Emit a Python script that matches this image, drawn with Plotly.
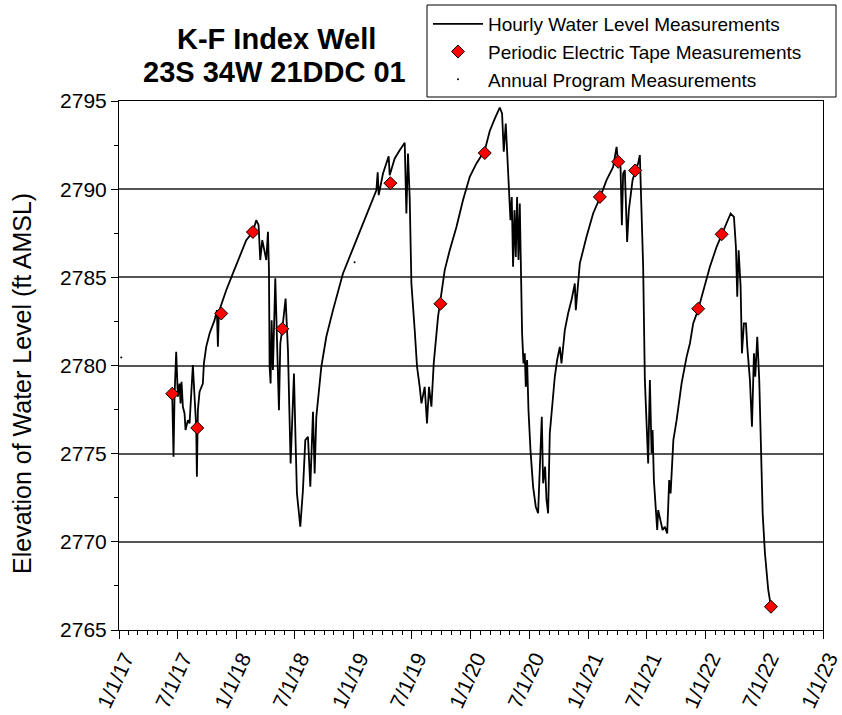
import pandas as pd
import plotly.graph_objects as go

BASE = pd.Timestamp("2017-01-01")

# Hourly water level record (days since 2017-01-01, ft AMSL)
hourly_days = [165.6, 169.7, 172.8, 178.0, 183.2, 188.4, 191.5, 194.6, 198.8, 204.0, 207.1, 214.4, 219.6,
               229.9, 235.1, 240.3, 242.4, 245.5, 250.7, 261.0, 264.2, 271.4, 281.9, 297.4, 304.7, 307.8,
               310.9, 333.7, 354.5, 375.3, 396.0, 416.8, 427.2, 434.4, 439.6, 445.9, 453.2, 458.4, 463.6,
               466.7, 468.7, 471.8, 475.0, 479.1, 486.4, 491.6, 497.8, 502.0, 508.3, 518.5, 525.8, 534.1,
               539.3, 544.5, 549.7, 553.8, 564.2, 572.5, 579.8, 588.1, 595.4, 603.7, 608.9, 614.1, 629.7,
               645.2, 666.0, 686.7, 697.0, 738.7, 780.2, 801.0, 805.1, 808.2, 821.6, 839.3, 842.4, 858.0,
               873.6, 889.2, 894.4, 899.4, 904.7, 910.0, 920.3, 927.5, 935.9, 941.2, 951.4, 958.6, 964.8,
               972.3, 979.5, 992.9, 1013.7, 1029.3, 1050.2, 1070.7, 1091.6, 1112.4, 1138.3, 1153.9, 1169.5,
               1179.7, 1185.0, 1192.2, 1197.5, 1203.7, 1209.0, 1214.0, 1218.3, 1222.4, 1226.4, 1230.8,
               1234.9, 1238.9, 1243.3, 1247.3, 1250.4, 1254.5, 1258.8, 1262.9, 1266.0, 1270.1, 1274.4,
               1280.6, 1288.8, 1297.1, 1304.3, 1309.6, 1315.8, 1319.9, 1326.1, 1330.5, 1335.5, 1340.7,
               1349.1, 1356.3, 1363.5, 1371.9, 1377.1, 1387.5, 1397.7, 1408.3, 1418.6, 1421.7, 1434.2,
               1455.0, 1475.6, 1496.5, 1517.3, 1537.9, 1548.5, 1553.5, 1560.9, 1565.0, 1569.0, 1574.2,
               1577.3, 1581.4, 1586.7, 1592.0, 1598.3, 1606.4, 1615.7, 1621.0, 1631.3, 1636.6, 1646.9,
               1652.2, 1657.5, 1660.6, 1664.7, 1670.9, 1675.0, 1678.1, 1685.5, 1691.7, 1698.9, 1706.1,
               1712.3, 1716.7, 1725.3, 1735.4, 1750.9, 1766.5, 1776.8, 1787.0, 1802.6, 1818.2, 1839.0,
               1859.9, 1875.5, 1891.1, 1903.5, 1913.8, 1920.0, 1924.1, 1928.4, 1934.6, 1938.7, 1944.9,
               1951.2, 1955.3, 1963.6, 1969.9, 1976.1, 1980.2, 1986.4, 1992.6, 1997.0, 2003.2, 2010.3,
               2020.6, 2029.0]
hourly_levels = [2778.36, 2774.83, 2778.23, 2780.78, 2778.23, 2778.98, 2777.85, 2779.08, 2777.66, 2777.28,
                 2776.34, 2776.90, 2776.72, 2780.02, 2778.23, 2776.53, 2773.69, 2777.47, 2778.51, 2778.98,
                 2780.12, 2781.06, 2781.82, 2782.57, 2783.14, 2781.06, 2783.05, 2784.27, 2785.22, 2786.16,
                 2787.11, 2787.58, 2788.24, 2787.96, 2785.98, 2787.11, 2786.54, 2785.98, 2787.58, 2785.41,
                 2779.93, 2778.98, 2782.57, 2779.74, 2784.94, 2781.44, 2777.47, 2781.25, 2782.08, 2783.80,
                 2780.87, 2774.45, 2777.47, 2779.55, 2775.58, 2772.75, 2770.86, 2772.94, 2775.77, 2775.96,
                 2773.12, 2777.38, 2773.88, 2777.09, 2779.93, 2781.63, 2783.14, 2784.46, 2785.22, 2787.11,
                 2789.00, 2789.94, 2790.96, 2789.66, 2790.89, 2791.87, 2790.79, 2791.74, 2792.21, 2792.63,
                 2788.62, 2792.02, 2789.56, 2784.65, 2782.01, 2779.93, 2778.79, 2777.85, 2778.79, 2776.72,
                 2778.79, 2777.66, 2780.12, 2782.76, 2785.41, 2786.54, 2787.86, 2789.38, 2790.70, 2791.46,
                 2792.20, 2793.30, 2794.00, 2794.38, 2794.63, 2794.29, 2792.12, 2793.72, 2791.64, 2789.94,
                 2788.24, 2789.56, 2785.60, 2788.81, 2786.16, 2789.56, 2785.98, 2789.19, 2784.84, 2781.82,
                 2780.12, 2780.69, 2778.79, 2780.31, 2777.47, 2775.20, 2773.12, 2771.99, 2771.62, 2774.26,
                 2777.09, 2773.32, 2774.26, 2772.37, 2771.62, 2776.15, 2778.04, 2779.36, 2780.31, 2781.06,
                 2780.12, 2782.01, 2782.95, 2783.71, 2784.65, 2783.14, 2785.79, 2787.30, 2788.62, 2789.51,
                 2790.51, 2791.26, 2792.40, 2791.49, 2791.26, 2787.96, 2790.89, 2791.08, 2789.38, 2787.01,
                 2788.81, 2789.76, 2790.51, 2791.00, 2791.46, 2791.93, 2785.60, 2779.17, 2774.45, 2779.17,
                 2775.02, 2776.34, 2773.50, 2771.80, 2770.67, 2771.80, 2771.24, 2770.67, 2770.86, 2770.48,
                 2773.50, 2772.75, 2775.77, 2776.90, 2778.99, 2780.49, 2781.25, 2782.39, 2783.18, 2784.27,
                 2785.60, 2786.73, 2787.39, 2788.06, 2788.62, 2788.43, 2786.73, 2783.90, 2786.54, 2784.46,
                 2780.69, 2782.39, 2782.39, 2781.06, 2779.17, 2776.53, 2780.69, 2779.36, 2781.63, 2779.17,
                 2775.39, 2771.62, 2769.35, 2767.27, 2766.32]

# Periodic electric tape measurements
tape_days = [165.7, 243.5, 318.3, 416.7, 508.3, 844.6, 1000.3, 1138.3, 1496.5, 1553.5, 1606.4,
             1802.6, 1875.5, 2029.0]
tape_levels = [2778.40, 2776.46, 2782.95, 2787.57, 2782.08, 2790.34, 2783.50, 2792.05, 2789.56,
               2791.55, 2791.06, 2783.22, 2787.44, 2766.32]

# Annual program measurements
annual_days = [7.0, 733.4]
annual_levels = [2780.45, 2785.86]

title_lines = ["K-F Index Well", "23S 34W 21DDC 01"]
y_title = "Elevation of Water Level (ft AMSL)"
y_ticks = [2765, 2770, 2775, 2780, 2785, 2790, 2795]


def to_dates(days):
    return BASE + pd.to_timedelta(days, unit="D")


FONT = "Arial, 'Liberation Sans', sans-serif"

fig = go.Figure()
fig.add_trace(go.Scatter(x=to_dates(hourly_days), y=hourly_levels, mode="lines",
                         name="Hourly Water Level Measurements",
                         line=dict(color="black", width=1.8)))
fig.add_trace(go.Scatter(x=to_dates(tape_days), y=tape_levels, mode="markers",
                         name="Periodic Electric Tape Measurements",
                         marker=dict(symbol="diamond", size=10, color="#ff0000",
                                     line=dict(color="black", width=1))))
fig.add_trace(go.Scatter(x=to_dates(annual_days), y=annual_levels, mode="markers",
                         name="Annual Program Measurements",
                         marker=dict(symbol="circle", size=2, color="black")))

L, R, T, B = 119, 19, 101, 85
W, H = 842, 715
pw, ph = W - L - R, H - T - B


def px_x(px):
    return (px - L) / pw


def px_y(py):
    return (H - B - py) / ph


annotations = [
    dict(text="<b>" + title_lines[0] + "</b>", xref="paper", yref="paper", x=px_x(276), y=px_y(39),
         xanchor="center", yanchor="middle", showarrow=False,
         font=dict(family=FONT, size=29, color="black")),
    dict(text="<b>" + title_lines[1] + "</b>", xref="paper", yref="paper", x=px_x(274), y=px_y(72),
         xanchor="center", yanchor="middle", showarrow=False,
         font=dict(family=FONT, size=29, color="black")),
    dict(text=y_title, xref="paper", yref="paper", x=px_x(22), y=px_y(384),
         xanchor="center", yanchor="middle", textangle=-90, showarrow=False,
         font=dict(family=FONT, size=25, color="black")),
]

fig.update_layout(
    width=W, height=H,
    margin=dict(l=L, r=R, t=T, b=B, autoexpand=False),
    paper_bgcolor="white", plot_bgcolor="white",
    font=dict(family=FONT, color="black", size=20),
    showlegend=True,
    legend=dict(xref="container", yref="container", x=428 / W, y=1 - 5 / H,
                xanchor="left", yanchor="top", bgcolor="rgba(0,0,0,0)", borderwidth=0,
                font=dict(family=FONT, size=19, color="black"), itemwidth=50,
                tracegroupgap=0),
    shapes=[dict(type="rect", xref="paper", yref="paper",
                 x0=px_x(427), x1=px_x(836), y0=px_y(97), y1=px_y(5),
                 line=dict(color="black", width=1), fillcolor="white", layer="below")],
    annotations=annotations,
)

fig.update_xaxes(
    type="date", range=["2017-01-01", "2023-01-01"], tick0="2017-01-01", dtick="M6",
    tickformat="%-m/%-d/%y", tickangle=-65, tickfont=dict(size=21),
    ticklabelshift=6, ticklabelstandoff=-1, ticklabeloverflow="allow",
    showline=True, linecolor="black", linewidth=1, mirror=True,
    ticks="outside", ticklen=8, tickcolor="black", tickwidth=1,
    minor=dict(dtick="M1", ticks="outside", ticklen=4, tickcolor="black", showgrid=False),
    showgrid=False, zeroline=False, automargin=False,
)
fig.update_yaxes(
    range=[2765, 2795], tickvals=y_ticks, tickfont=dict(size=21),
    showline=True, linecolor="black", linewidth=1, mirror=True,
    ticks="outside", ticklen=7, tickcolor="black", tickwidth=1,
    minor=dict(dtick=2.5, tick0=2765, ticks="outside", ticklen=4, tickcolor="black", showgrid=False),
    showgrid=True, gridcolor="#555555", gridwidth=2, zeroline=False, automargin=False,
)

fig.write_html("out.html", config={"displayModeBar": False},
               post_script="document.body.style.margin='0';")
